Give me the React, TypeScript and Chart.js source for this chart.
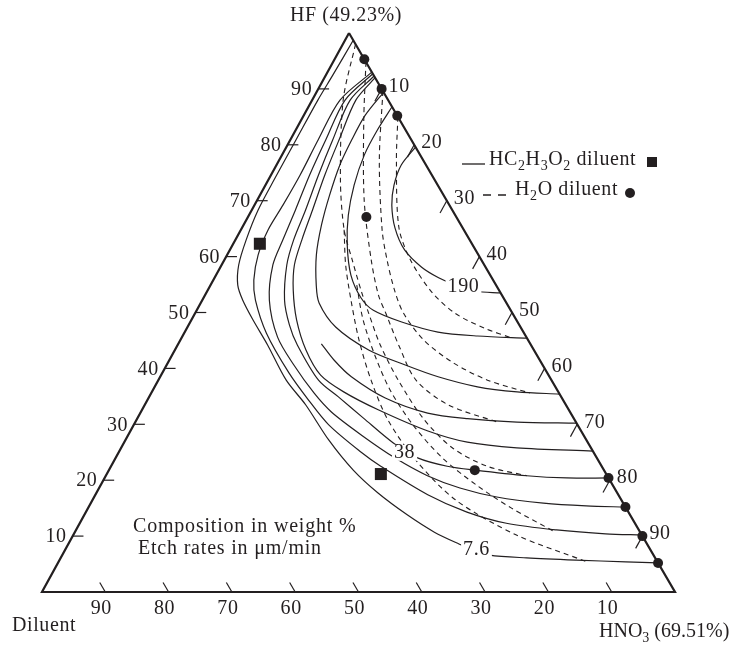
import { useEffect, useRef } from "react";
import { Chart, registerables } from "chart.js";

Chart.register(...registerables);

const SKEW = 0.485; // horizontal offset of the HF apex (fraction of base)
const FONT = '"Liberation Serif", "Times New Roman", serif';
const INK = "#231f20";

// Tick values along all three edges (weight %)
const edgeTicks = [10, 20, 30, 40, 50, 60, 70, 80, 90];

// Composition points: [HF %, HNO3 %] (diluent = remainder)
// Iso-etch curves, HC2H3O2 diluent (solid), innermost to outermost
const acetic190 = [[79.6,20.4],[76.4,19.7],[72.8,20.3],[69.2,21.7],[65.1,24.2],[61.2,27.6],[58.1,31.8],[56.2,35.4],[55.3,37.7],[54.6,40.1],[53.8,42.4],[53.5,46.5]];
const acetic2 = [[86.8,13.2],[82.6,12.9],[78.2,13.0],[72.8,14.0],[67.4,15.7],[62.1,18.1],[56.7,21.3],[52.6,24.9],[50.4,27.9],[48.3,33.4],[46.5,40.0],[45.8,46.6],[45.4,54.6]];
const acetic3 = [[89.4,10.6],[85.3,9.7],[80.9,9.7],[76.4,10.0],[71.0,11.0],[65.7,12.3],[60.3,14.1],[54.9,16.7],[51.7,18.7],[47.4,23.4],[43.3,30.6],[40.6,37.7],[38.5,43.9],[36.7,51.0],[35.8,57.7],[35.4,64.6]];
const acetic4 = [[44.4,22.6],[41.5,26.0],[38.5,30.2],[34.7,37.4],[32.0,45.4],[31.0,52.2],[30.4,60.3],[30.2,69.8]];
const acetic5 = [[92.0,8.0],[88.0,6.9],[80.9,7.7],[74.6,8.5],[68.3,9.6],[63.0,10.5],[58.5,11.5],[54.0,13.5],[48.7,16.6],[43.3,20.7],[38.8,25.2],[35.8,30.3],[32.6,37.3],[28.8,47.0],[26.8,54.2],[25.8,62.5],[25.2,74.8]];
const acetic38 = [[92.3,7.7],[88.0,6.0],[80.9,6.7],[74.6,7.5],[68.3,8.5],[63.0,9.2],[58.5,10.3],[52.2,13.0],[47.8,15.9],[44.2,18.9],[37.9,25.3],[34.9,29.9],[31.1,35.7],[26.7,42.5],[24.0,47.7],[22.5,53.1],[21.8,57.8],[20.8,66.5],[20.4,73.0],[20.4,79.6]];
const acetic7 = [[92.7,7.3],[88.0,5.2],[80.9,5.6],[74.6,6.1],[68.3,6.9],[63.0,7.5],[58.5,8.1],[52.2,10.6],[45.6,15.1],[40.6,20.1],[35.6,25.7],[32.2,30.1],[28.1,36.8],[24.0,44.1],[20.8,50.8],[18.6,57.0],[17.0,63.6],[15.9,71.5],[15.4,78.5],[15.2,84.8]];
const acetic8 = [[93.0,7.0],[88.0,4.4],[80.9,4.4],[74.6,4.6],[69.2,4.5],[64.8,4.3],[60.3,4.9],[55.8,6.4],[52.2,8.4],[46.3,13.0],[39.2,20.0],[34.3,25.5],[29.9,30.8],[25.0,38.3],[22.5,42.6],[17.4,52.5],[14.3,60.2],[12.3,67.4],[11.1,75.9],[10.4,84.0],[10.2,89.8]];
const acetic7p6 = [[98.7,1.3],[92.5,1.1],[88.0,0.9],[80.9,0.9],[74.1,0.9],[68.3,1.0],[63.0,1.7],[58.5,2.7],[54.9,4.3],[52.2,6.4],[48.7,9.7],[44.2,14.2],[37.9,20.2],[33.5,25.4],[27.2,32.1],[21.8,38.6],[17.7,44.5],[13.8,51.0],[10.7,56.8],[8.6,61.7],[7.5,64.6],[6.6,67.5],[6.1,73.6],[5.7,81.6],[5.4,89.6],[5.2,94.8]];

// Iso-etch curves, H2O diluent (dashed)
const water1 = [[85.0,15.0],[77.3,18.5],[65.3,24.7],[59.4,29.4],[53.7,35.5],[49.9,41.0],[47.2,47.0],[45.4,52.3]];
const water2 = [[89.6,10.4],[77.3,15.8],[64.8,22.3],[59.4,25.7],[54.0,29.5],[49.9,32.9],[45.1,38.4],[41.1,44.9],[37.9,52.0],[35.6,59.8]];
const water3 = [[94.8,5.2],[84.4,9.9],[70.1,16.9],[59.4,23.2],[53.1,27.4],[49.9,30.1],[44.2,34.9],[37.9,40.7],[33.5,47.9],[30.4,57.2]];
const water4 = [[98.0,2.0],[88.0,4.9],[73.7,11.4],[64.8,16.3],[59.4,20.2],[54.0,24.2],[49.9,27.4],[44.2,32.0],[37.9,37.9],[31.1,45.1],[25.8,52.3],[22.5,59.4],[20.8,66.5]];
const water5 = [[54.9,23.1],[48.7,27.1],[42.4,32.0],[36.1,37.5],[29.9,44.1],[24.0,51.6],[19.1,59.4],[15.0,66.9],[10.9,75.5]];
const water6 = [[64.8,16.3],[58.5,19.6],[52.2,23.5],[45.1,28.2],[37.9,33.6],[30.8,39.7],[23.6,47.6],[16.5,57.3],[10.2,70.0],[5.5,83.2]];

// Measured points
const waterPoints = [[95.3,4.7],[90.0,10.0],[85.2,14.8],[67.1,18.7],[21.8,57.8],[20.4,79.6],[15.2,84.8],[10.0,90.0],[5.2,94.8]];
const aceticPoints = [[62.3,4.2],[21.1,43.3]];

// Curve labels and their positions [HF, HNO3]
const curveLabels = ["190", "38", "7.6"];
const curveLabelPos = [[54.6,40.1],[24.9,45.2],[7.5,65.0]];

const toXY = (p: number[]) => ({ x: p[1] + SKEW * p[0], y: p[0] });

function drawRuns(ctx: CanvasRenderingContext2D, parts: [string, boolean][], x: number, y: number, size: number) {
  let cx = x;
  ctx.textAlign = "left";
  for (const [s, sub] of parts) {
    ctx.font = `${sub ? Math.round(size * 0.7) : size}px ${FONT}`;
    ctx.fillText(s, cx, sub ? y + size * 0.3 : y);
    cx += ctx.measureText(s).width;
  }
}

export default function App() {
  const ref = useRef<HTMLCanvasElement>(null);

  useEffect(() => {
    const canvas = ref.current!;
    const curve = (pts: number[][], dashed: boolean) => ({
      data: pts.map(toXY),
      showLine: true,
      borderColor: INK,
      borderWidth: dashed ? 1.1 : 1.2,
      borderDash: dashed ? [5, 4] : [],
      pointRadius: 0,
      tension: 0.3,
      fill: false,
      clip: false,
    });
    const seg = (a: number[], b: number[]) => ({
      data: [toXY(a), toXY(b)],
      showLine: true,
      borderColor: INK,
      borderWidth: 1.2,
      pointRadius: 0,
      tension: 0,
      clip: false,
    });

    const tickSets: any[] = [];
    edgeTicks.forEach((t) => {
      tickSets.push(seg([t, 0], [t, 1.7])); // HF edge
      tickSets.push(seg([100 - t, t], [100 - t - 2.2, t])); // HNO3 edge
      tickSets.push(seg([0, 100 - t], [1.7, 100 - t - 1.7])); // diluent edge
    });

    const overlay = {
      id: "overlay",
      afterDatasetsDraw(chart: any) {
        const ctx: CanvasRenderingContext2D = chart.ctx;
        const sx = chart.scales.x;
        const sy = chart.scales.y;
        const P = (hf: number, hno3: number) => [sx.getPixelForValue(hno3 + SKEW * hf), sy.getPixelForValue(hf)];
        ctx.save();
        (ctx as any).letterSpacing = "0.6px";
        ctx.fillStyle = INK;
        ctx.strokeStyle = INK;
        ctx.textBaseline = "middle";
        ctx.font = `20px ${FONT}`;
        edgeTicks.forEach((t) => {
          let [x, y] = P(t, 0);
          ctx.textAlign = "right";
          ctx.fillText(String(t), x - 6, y + 1);
          [x, y] = P(100 - t, t);
          ctx.textAlign = "left";
          ctx.fillText(String(t), x + 7, y - 2);
          [x, y] = P(0, 100 - t);
          ctx.textAlign = "center";
          ctx.fillText(String(t), x - 4, y + 17);
        });
        // curve labels with white knock-out
        curveLabels.forEach((s, i) => {
          const [x, y] = P(curveLabelPos[i][0], curveLabelPos[i][1]);
          ctx.font = `20px ${FONT}`;
          const w = ctx.measureText(s).width;
          ctx.fillStyle = "#ffffff";
          ctx.fillRect(x - w / 2 - 2, y - 8, w + 4, 16);
          ctx.fillStyle = INK;
          ctx.textAlign = "center";
          ctx.fillText(s, x, y);
        });
        // vertex titles
        ctx.font = `20px ${FONT}`;
        ctx.textAlign = "center";
        ctx.fillText("HF (49.23%)", 346, 16);
        ctx.textAlign = "left";
        ctx.fillText("Diluent", 12, 626);
        (ctx as any).letterSpacing = "0px";
        drawRuns(ctx, [["HNO", false], ["3", true], [" (69.51%)", false]], 599, 632, 20);
        (ctx as any).letterSpacing = "0.8px";
        // notes
        ctx.font = `20px ${FONT}`;
        ctx.textAlign = "left";
        ctx.fillText("Composition in weight %", 133, 527);
        ctx.fillText("Etch rates in \u03bcm/min", 138, 549);
        (ctx as any).letterSpacing = "0.6px";
        // legend
        ctx.lineWidth = 1.3;
        ctx.setLineDash([]);
        ctx.beginPath();
        ctx.moveTo(462, 164);
        ctx.lineTo(485, 164);
        ctx.stroke();
        drawRuns(ctx, [["HC", false], ["2", true], ["H", false], ["3", true], ["O", false], ["2", true], [" diluent", false]], 489, 160, 20);
        ctx.fillRect(647, 157, 10, 10);
        ctx.beginPath();
        ctx.moveTo(483, 195);
        ctx.lineTo(491, 195);
        ctx.moveTo(498, 195);
        ctx.lineTo(506, 195);
        ctx.stroke();
        drawRuns(ctx, [["H", false], ["2", true], ["O diluent", false]], 515, 190, 20);
        ctx.beginPath();
        ctx.arc(630, 193, 5, 0, Math.PI * 2);
        ctx.fill();
        ctx.restore();
      },
    };

    const chart = new Chart(canvas, {
      type: "scatter",
      data: {
        datasets: [
          {
            data: [[100, 0], [0, 0], [0, 100], [100, 0]].map(toXY),
            showLine: true,
            borderColor: INK,
            borderWidth: 2.2,
            borderJoinStyle: "miter",
            pointRadius: 0,
            tension: 0,
            clip: false,
          } as any,
          ...tickSets,
          curve(acetic190, false),
          curve(acetic2, false),
          curve(acetic3, false),
          curve(acetic4, false),
          curve(acetic5, false),
          curve(acetic38, false),
          curve(acetic7, false),
          curve(acetic8, false),
          curve(acetic7p6, false),
          curve(water1, true),
          curve(water2, true),
          curve(water3, true),
          curve(water4, true),
          curve(water5, true),
          curve(water6, true),
          {
            data: waterPoints.map(toXY),
            pointStyle: "circle",
            pointRadius: 5,
            pointBackgroundColor: INK,
            pointBorderWidth: 0,
            showLine: false,
            clip: false,
          } as any,
          {
            data: aceticPoints.map(toXY),
            pointStyle: "rect",
            pointRadius: 8.5,
            pointBackgroundColor: INK,
            pointBorderWidth: 0,
            showLine: false,
            clip: false,
          } as any,
        ],
      },
      options: {
        responsive: false,
        animation: false,
        devicePixelRatio: 1,
        layout: { padding: { left: 42, right: 54, top: 33, bottom: 56 } },
        scales: {
          x: { type: "linear", min: 0, max: 100, display: false },
          y: { type: "linear", min: 0, max: 100, display: false },
        },
        plugins: { legend: { display: false }, tooltip: { enabled: false } },
        events: [],
      },
      plugins: [overlay],
    } as any);
    return () => chart.destroy();
  }, []);

  return (
    <div style={{ position: "absolute", left: 0, top: 0, width: 729, height: 648, background: "#fff" }}>
      <canvas ref={ref} width={729} height={648} style={{ display: "block", width: 729, height: 648 }} />
    </div>
  );
}
